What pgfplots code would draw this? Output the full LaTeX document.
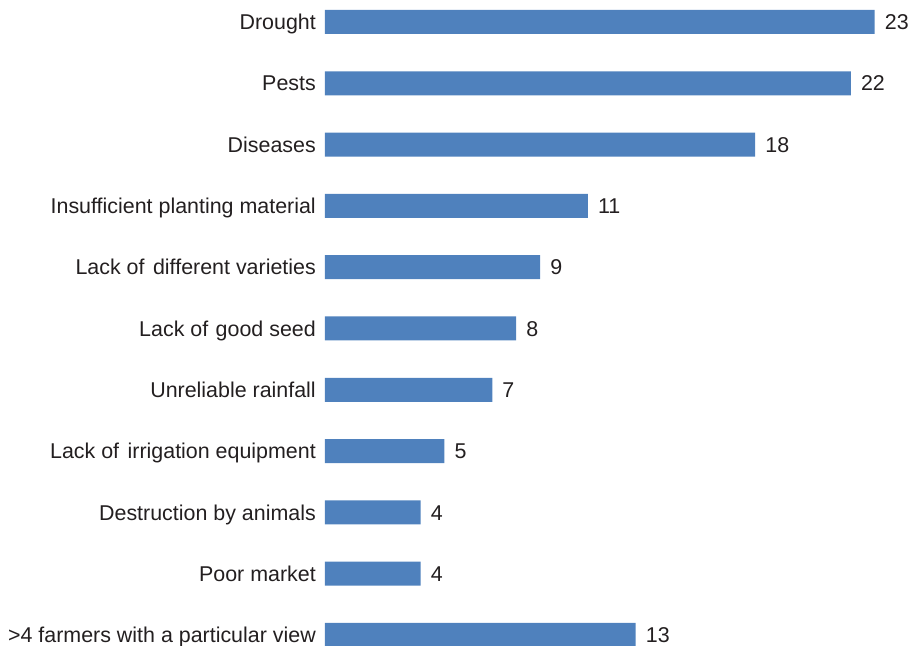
\documentclass[border=0pt]{standalone}
\usepackage{pgfplots}
\pgfplotsset{compat=1.18}
\usepackage{fontspec}
\setmainfont{Liberation Sans}
\definecolor{barblue}{HTML}{4F81BD}
\definecolor{txt}{HTML}{231F20}
\begin{document}
\begin{tikzpicture}
\path[use as bounding box] (-325bp,19.65bp) rectangle (586bp,665.65bp);
\begin{axis}[
  at={(0,0)}, anchor=south west,
  scale only axis, width=573.6bp, height=674.3bp,
  xmin=0, xmax=24, ymin=-0.5, ymax=10.5,
  clip=false,
  /pgf/number format/assume math mode=true,
  axis line style={draw=none},
  major tick length=0pt,
  xtick=\empty,
  ytick={0,1,2,3,4,5,6,7,8,9,10},
  yticklabels={{>4 farmers with a particular view},{Poor market},{Destruction by animals},{Lack of\hspace{2.5bp} irrigation equipment},{Unreliable rainfall},{Lack of\hspace{1.5bp} good seed},{Lack of\hspace{2.5bp} different varieties},{Insufficient planting material},{Diseases},{Pests},{Drought}},
  yticklabel style={anchor=east, inner sep=0pt, xshift=-9bp, text height=15.4bp, text depth=0pt, font=\fontsize{21.5}{25}\selectfont, text=txt},
  xbar, bar width=24bp,
  nodes near coords,
  nodes near coords style={anchor=west, inner sep=0pt, xshift=10bp, text height=15.4bp, text depth=0pt, font=\fontsize{21.5}{25}\selectfont, text=txt},
]
\addplot[fill=barblue, draw=none] coordinates {
(13,0) (4,1) (4,2) (5,3) (7,4) (8,5) (9,6) (11,7) (18,8) (22,9) (23,10)
};
\end{axis}
\end{tikzpicture}
\end{document}
